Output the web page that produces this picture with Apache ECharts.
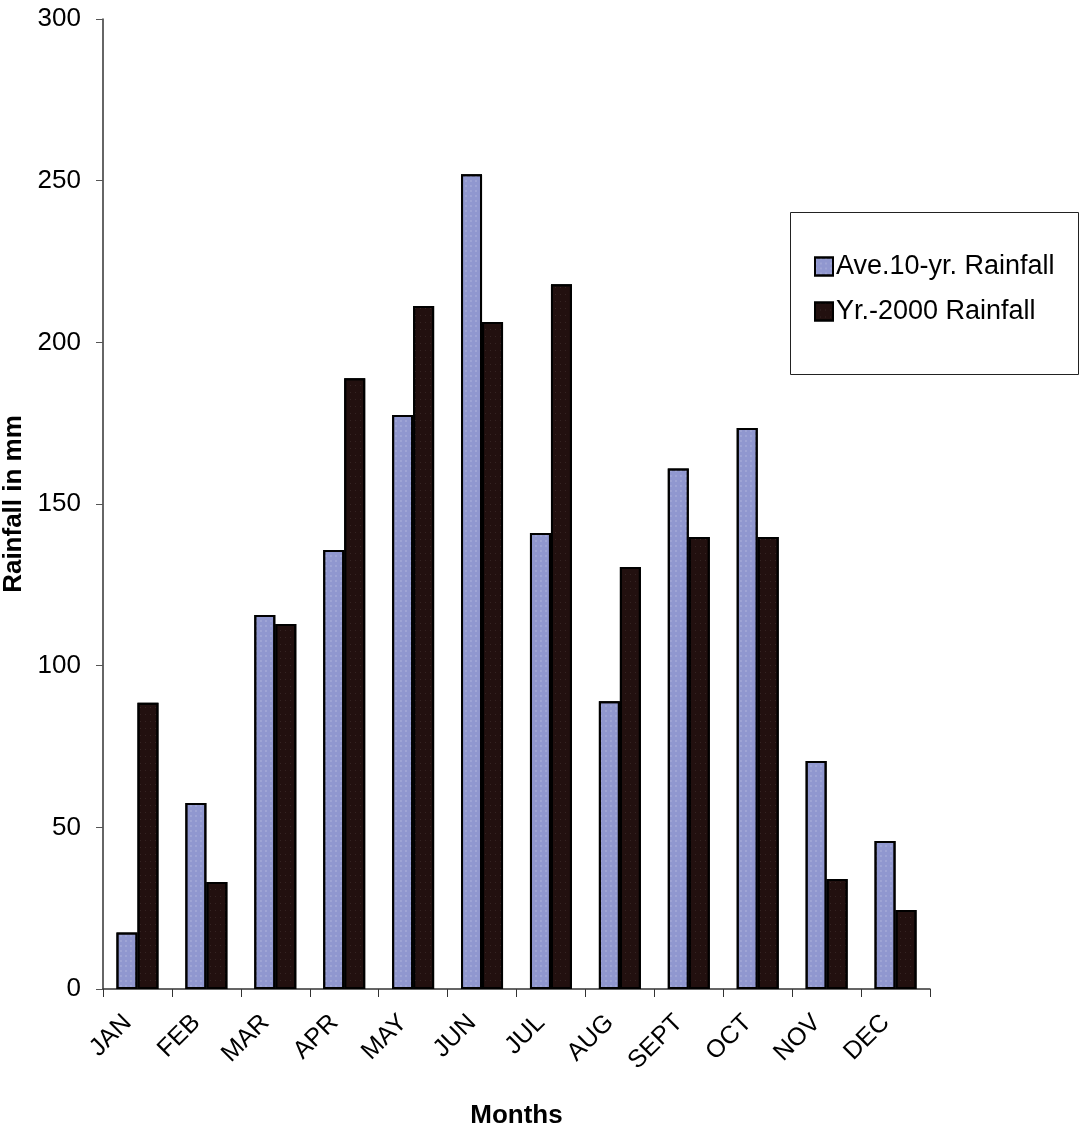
<!DOCTYPE html>
<html>
<head>
<meta charset="utf-8">
<title>Monthly rainfall</title>
<script src="https://cdn.jsdelivr.net/npm/echarts@6/dist/echarts.min.js"></script>
<style>
  html, body { margin: 0; padding: 0; background: #fff; }
  #chart { width: 1081px; height: 1133px; }
</style>
</head>
<body>
<div id="chart"></div>
<script>
const months = ['JAN', 'FEB', 'MAR', 'APR', 'MAY', 'JUN', 'JUL', 'AUG', 'SEPT', 'OCT', 'NOV', 'DEC']
const avgRainfall = [17.5, 57.5, 115.7, 135.8, 177.5, 252, 141, 89, 161, 173.5, 70.5, 45.8]
const yr2000Rainfall = [88.5, 33.1, 112.9, 188.9, 211.2, 206.3, 218, 130.5, 139.8, 139.8, 34, 24.4]
const seriesNames = ['Ave.10-yr. Rainfall', 'Yr.-2000 Rainfall']

const chart = echarts.init(document.getElementById('chart'))

const font = '"Liberation Sans", Arial, sans-serif'

const option = {
  backgroundColor: '#fff',
  animation: false,
  textStyle: { fontFamily: font },
  grid: {
    left: 103,
    right: 151,
    top: 19,
    bottom: 144,
    outerBoundsMode: 'none',
    containLabel: false
  },
  legend: {
    orient: 'vertical',
    left: 809,
    top: 248,
    icon: 'rect',
    itemWidth: 18,
    itemHeight: 18,
    itemGap: 18,
    textStyle: { fontSize: 27, color: '#000', fontFamily: font, padding: [0, 0, 0, -2] },
    data: seriesNames
  },
  graphic: [{
    type: 'rect',
    left: 788,
    top: 210,
    shape: { width: 288, height: 162 },
    style: { fill: 'none', stroke: '#222', lineWidth: 1 }
  }],
  xAxis: {
    type: 'category',
    data: months,
    name: 'Months',
    nameLocation: 'middle',
    nameGap: 114,
    nameTextStyle: { fontSize: 26, fontWeight: 'bold', color: '#000' },
    axisLine: { lineStyle: { color: '#333', width: 1.5 } },
    axisTick: { show: true, length: 8, lineStyle: { color: '#333' } },
    axisLabel: {
      rotate: 45,
      interval: 0,
      fontSize: 25,
      color: '#000',
      margin: 20,
      padding: [0, 14, 0, 0]
    }
  },
  yAxis: {
    type: 'value',
    min: 0,
    max: 300,
    interval: 50,
    name: 'Rainfall in mm',
    nameLocation: 'middle',
    nameGap: 68,
    nameTextStyle: { fontSize: 26, fontWeight: 'bold', color: '#000' },
    splitLine: { show: false },
    axisLine: { show: true, lineStyle: { color: '#333', width: 1.5 } },
    axisTick: { show: true, length: 7, lineStyle: { color: '#555' } },
    axisLabel: { fontSize: 26, color: '#000', margin: 22 }
  },
  series: [
    {
      name: seriesNames[0],
      type: 'bar',
      data: avgRainfall,
      barWidth: 21,
      barGap: '0%',
      itemStyle: {
        color: '#9097cf',
        borderColor: '#000',
        borderWidth: 2,
        decal: {
          symbol: 'rect',
          symbolSize: 0.6,
          dashArrayX: [2, 3],
          dashArrayY: [2, 3],
          rotation: 0,
          color: 'rgba(255,255,255,0.45)'
        }
      }
    },
    {
      name: seriesNames[1],
      type: 'bar',
      data: yr2000Rainfall,
      barWidth: 21,
      itemStyle: {
        color: '#22100f',
        borderColor: '#000',
        borderWidth: 2,
        decal: {
          symbol: 'rect',
          symbolSize: 0.5,
          dashArrayX: [1, 4],
          dashArrayY: [1, 6],
          rotation: 0,
          color: 'rgba(255,255,255,0.35)'
        }
      }
    }
  ]
}

chart.setOption(option)

window.addEventListener('resize', () => chart.resize())
</script>
</body>
</html>
